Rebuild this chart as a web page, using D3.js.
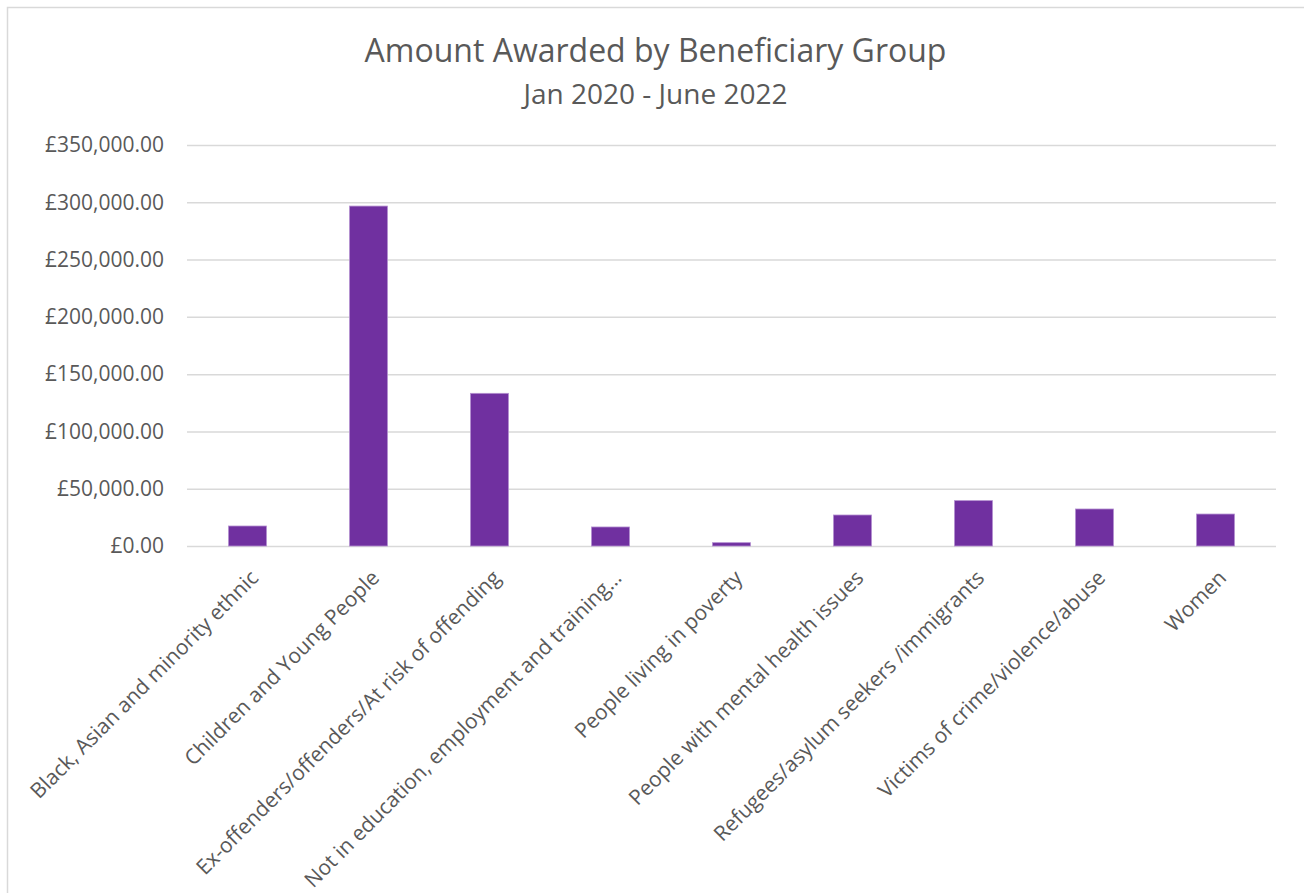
<!DOCTYPE html>
<html><head><meta charset="utf-8">
<script src="https://cdn.jsdelivr.net/npm/d3@7"></script>
<style>html,body{margin:0;padding:0;background:#fff;}svg{display:block;}</style>
</head><body>
<script>
const categories = [
  "Black, Asian and minority ethnic",
  "Children and Young People",
  "Ex-offenders/offenders/At risk of offending",
  "Not in education, employment and training…",
  "People living in poverty",
  "People with mental health issues",
  "Refugees/asylum seekers /immigrants",
  "Victims of crime/violence/abuse",
  "Women"
];
const amounts = [17450, 296700, 133250, 16600, 2900, 27050, 39600, 32300, 27900];
const yTicks = [0, 50000, 100000, 150000, 200000, 250000, 300000, 350000];
const titleText = "Amount Awarded by Beneficiary Group";
const subtitleText = "Jan 2020 - June 2022";

(function () {
const W = 1304, H = 893;
const FONT = "'Open Sans', sans-serif";
const TXT = "#595959";
const svg = d3.select("body").append("svg").attr("width", W).attr("height", H);

svg.append("rect").attr("x", 7.5).attr("y", 7.5).attr("width", 1310).attr("height", 900)
  .attr("fill", "#fff").attr("stroke", "#d9d9d9").attr("stroke-width", 1.5);

const pl = 187, pr = 1276, pt = 145, pb = 546;
const x = d3.scaleBand().domain(categories).range([pl, pr]).paddingInner(0.686).paddingOuter(0.343);
const y = d3.scaleLinear().domain([0, 350000]).range([pb, pt]);

const yAxis = d3.axisLeft(y).tickValues(yTicks).tickSize(-(pr - pl)).tickPadding(23)
  .tickFormat(d => "£" + d3.format(",.2f")(d));
const ga = svg.append("g").attr("transform", `translate(${pl},0)`).call(yAxis);
ga.select(".domain").remove();
ga.selectAll(".tick line").attr("stroke", "#d9d9d9").attr("stroke-width", 1.5);
ga.selectAll(".tick text").attr("fill", TXT).style("font-family", FONT).style("font-size", "21px");

svg.append("g").selectAll("rect").data(categories).join("rect")
  .attr("x", d => x(d))
  .attr("width", x.bandwidth())
  .attr("y", (d, i) => y(amounts[i]))
  .attr("height", (d, i) => y(0) - y(amounts[i]))
  .attr("fill", "#7030a0")
  .attr("stroke", "#b48fd0").attr("stroke-width", 0.8);

const xa = svg.append("g").attr("transform", `translate(0,${pb})`)
  .call(d3.axisBottom(x).tickSize(0).tickPadding(0));
xa.select(".domain").remove();
xa.selectAll(".tick text")
  .attr("fill", TXT).style("font-family", FONT).style("font-size", "21px")
  .attr("text-anchor", "end")
  .attr("transform", "translate(7,28) rotate(-45)")
  .attr("dy", "0.35em").attr("y", 0);

const cx = (7 + 1304) / 2;
svg.append("text").attr("x", cx).attr("y", 62).attr("text-anchor", "middle")
  .attr("fill", TXT).style("font-family", FONT).style("font-size", "32px").text(titleText);
svg.append("text").attr("x", cx).attr("y", 104).attr("text-anchor", "middle")
  .attr("fill", TXT).style("font-family", FONT).style("font-size", "28px").text(subtitleText);
})();
</script>
</body></html>
